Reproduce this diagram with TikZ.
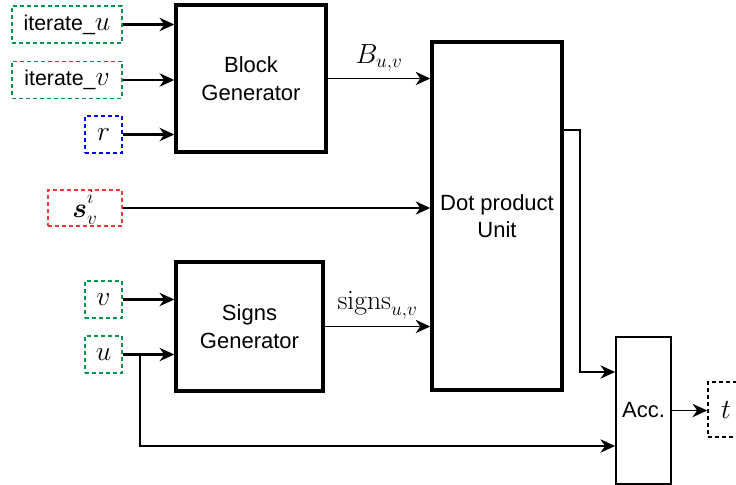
\documentclass[tikz,border=0pt]{standalone}
\usepackage[no-math]{fontspec}
\setmainfont{Liberation Sans}
\usepackage{amsmath}
\usepackage{amssymb}
\usepackage{tikz}
\usetikzlibrary{arrows.meta}
\usetikzlibrary{shapes}
\definecolor{ingreen}{RGB}{0,153,76}
\definecolor{inblue}{RGB}{0,0,255}
\definecolor{inred}{RGB}{255,51,51}
\tikzset{
  blockbox/.style={draw, line width=2.6pt, align=center, inner sep=0pt,
    font=\fontsize{16.5}{20.5}\selectfont},
  accbox/.style={draw, line width=1.3pt, align=center, inner sep=0pt,
    font=\fontsize{16.5}{20.5}\selectfont},
  inbox/.style={draw, line width=1.2pt, dash pattern=on 3pt off 2.25pt, inner sep=0pt,
    font=\fontsize{16}{19}\selectfont},
  mathlbl/.style={font=\fontsize{20}{24}\selectfont, inner sep=0.75pt},
  feed/.style={line width=1.6pt, -{Stealth[length=11pt,width=10pt,inset=3.5pt]}},
  thinfeed/.style={line width=1.1pt, -{Stealth[length=11pt,width=10pt,inset=3.5pt]}},
}

\begin{document}
\begin{tikzpicture}[x=0.75pt,y=0.75pt,yscale=-1,xscale=1]
\useasboundingbox (0,0) rectangle (736,485);

% Blocks
\node [blockbox, minimum width=112.5pt, minimum height=110.25pt] (bg) at (251,78.5) {Block\\Generator};
\node [blockbox, minimum width=110.25pt, minimum height=96.75pt] (sg) at (249.5,326.5) {Signs\\Generator};
\node [blockbox, minimum width=97.5pt, minimum height=261pt] (dp) at (497,216) {Dot product\\Unit};
\node [accbox, minimum width=41.25pt, minimum height=110.25pt] (acc) at (643.5,410.5) {Acc.};

% Inputs
\node [inbox, draw=ingreen, minimum width=82.5pt, minimum height=27.75pt] (itu) at (67,24.5) {iterate\_\fontsize{20}{24}\selectfont$u$};
\node [inbox, draw=ingreen, minimum width=82.5pt, minimum height=27.75pt] (itv) at (67,80) {iterate\_\fontsize{20}{24}\selectfont$v$};
\node [inbox, draw=inblue, minimum width=27.75pt, minimum height=27.75pt, font=\fontsize{20}{24}\selectfont] (r) at (103.5,134.5) {$r$};
\node [inbox, draw=inred, minimum width=55.5pt, minimum height=27pt, font=\fontsize{20}{24}\selectfont] (s) at (85,208) {$\boldsymbol{s}^{\raisebox{3pt}{$\scriptstyle i$}}_{v}$};
\node [inbox, draw=ingreen, minimum width=27.75pt, minimum height=27.75pt, font=\fontsize{20}{24}\selectfont] (v) at (103.5,299.5) {$v$};
\node [inbox, draw=ingreen, minimum width=27.75pt, minimum height=27.75pt, font=\fontsize{20}{24}\selectfont] (u) at (103.5,354.5) {$u$};
\node [inbox, draw=black, minimum width=27pt, minimum height=41.25pt, font=\fontsize{20}{24}\selectfont] (t) at (726,409.5) {$t$};

% Bends
\coordinate (dpo) at (562,130);
\coordinate (dpbend) at (580,130);
\coordinate (ubend) at (140,354.5);

% Connectors
\draw [feed] (itu.east) -- (itu -| bg.west);
\draw [feed] (itv.east) -- (itv -| bg.west);
\draw [feed] (r.east) -- (r -| bg.west);
\draw [feed] (v.east) -- (v -| sg.west);
\draw [feed] (u.east) -- (u -| sg.west);
\draw [thinfeed] (s.east) -- (s -| dp.west);
\draw [thinfeed] (bg.east) -- (bg -| dp.west) node [mathlbl, pos=0.5, above, yshift=4pt] (blbl) {$B_{u,v}$};
\draw [thinfeed] (sg.east) -- (sg -| dp.west) node [mathlbl, pos=0.5, above, yshift=4pt] (slbl) {$\mathrm{signs}_{u,v}$};
\draw [thinfeed] (dpo) -- (dpbend) |- (acc.west |- 0,372);
\draw [thinfeed] (ubend) |- (acc.west |- 0,446);
\draw [thinfeed] (acc.east) -- (acc -| t.west);

\end{tikzpicture}
\end{document}
